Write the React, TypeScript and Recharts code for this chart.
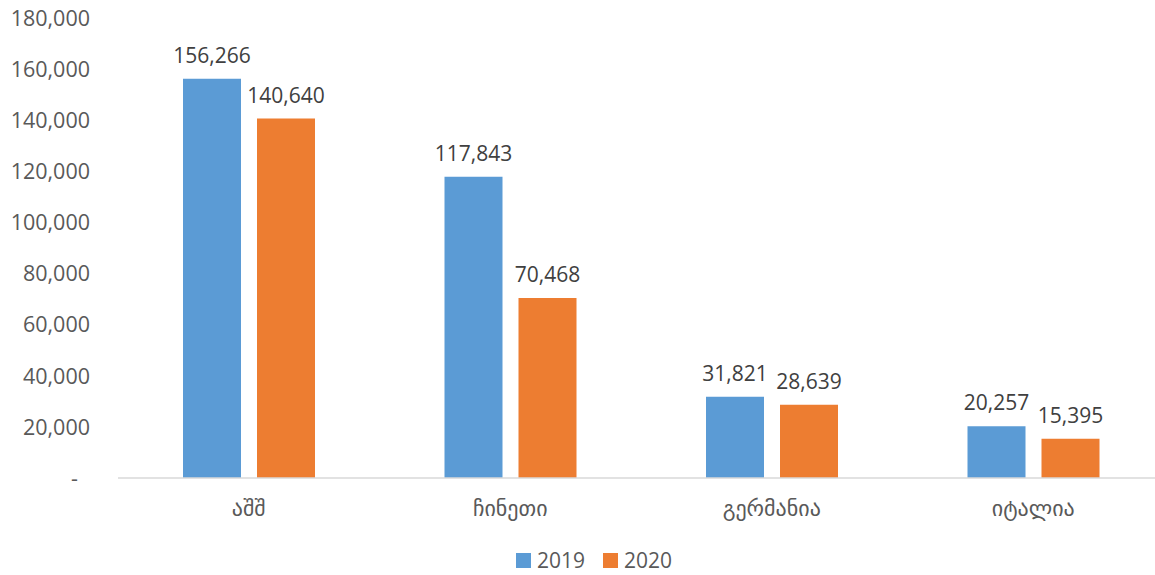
import React from 'react';
import { BarChart, Bar, XAxis, YAxis, LabelList, Legend } from 'recharts';

const categories = ['აშშ', 'ჩინეთი', 'გერმანია', 'იტალია'];
const values2019 = [156266, 117843, 31821, 20257];
const values2020 = [140640, 70468, 28639, 15395];
const yTicks = [0, 20000, 40000, 60000, 80000, 100000, 120000, 140000, 160000, 180000];
const seriesNames = ['2019', '2020'];

const data = categories.map((c, i) => ({ name: c, v2019: values2019[i], v2020: values2020[i] }));

const FONT = '"Open Sans", "DejaVu Sans", sans-serif';
const GEO_FONT = '"DejaVu Sans", sans-serif';
const BLUE = '#5B9BD5';
const ORANGE = '#ED7D31';
const TEXT = '#595959';

const fmt = (v: number) => v.toLocaleString('en-US');

const YTick = (props: any) => {
  const { x, y, payload } = props;
  const v = payload.value;
  return (
    <text x={v === 0 ? x - 12 : x} y={y} dy="0.36em" textAnchor="end" fill={TEXT} fontSize={21.5} fontFamily={FONT}>
      {v === 0 ? '-' : fmt(v)}
    </text>
  );
};

const LegendContent = () => {
  const colors = [BLUE, ORANGE];
  return (
    <div style={{ display: 'flex', justifyContent: 'center', alignItems: 'center', height: 28, paddingLeft: 24, gap: 18, fontFamily: FONT, fontSize: 21, color: TEXT }}>
      {seriesNames.map((n, i) => (
        <div key={n} style={{ display: 'flex', alignItems: 'center', gap: 6 }}>
          <div style={{ width: 15, height: 15, background: colors[i] }} />
          <span>{n}</span>
        </div>
      ))}
    </div>
  );
};

export default function App() {
  return (
    <div style={{ position: 'absolute', left: 0, top: 0, width: 1155, height: 575, overflow: 'hidden', background: '#fff' }}>
      <BarChart
        width={1166}
        height={575}
        data={data}
        margin={{ top: 18, right: 2, bottom: 19, left: 0 }}
        barGap={16}
        barSize={58}
      >
        <YAxis
          width={118}
          domain={[0, 180000]}
          ticks={yTicks}
          axisLine={false}
          tickLine={false}
          tickSize={0}
          tickMargin={28}
          tick={<YTick />}
          interval={0}
        />
        <XAxis
          dataKey="name"
          height={50}
          axisLine={{ stroke: '#D9D9D9', strokeWidth: 1.5 }}
          tickLine={false}
          tickSize={0}
          tickMargin={22}
          tick={{ fill: TEXT, fontSize: 22, fontFamily: GEO_FONT }}
        />
        <Legend verticalAlign="bottom" wrapperStyle={{ top: 546, height: 28, bottom: 'auto' }} content={<LegendContent />} />
        <Bar dataKey="v2019" name="2019" fill={BLUE} isAnimationActive={false}>
          <LabelList dataKey="v2019" position="top" offset={16} formatter={(v: any) => fmt(v)} style={{ fill: '#404040', fontSize: 21, fontFamily: FONT }} />
        </Bar>
        <Bar dataKey="v2020" name="2020" fill={ORANGE} isAnimationActive={false}>
          <LabelList dataKey="v2020" position="top" offset={16} formatter={(v: any) => fmt(v)} style={{ fill: '#404040', fontSize: 21, fontFamily: FONT }} />
        </Bar>
      </BarChart>
    </div>
  );
}
